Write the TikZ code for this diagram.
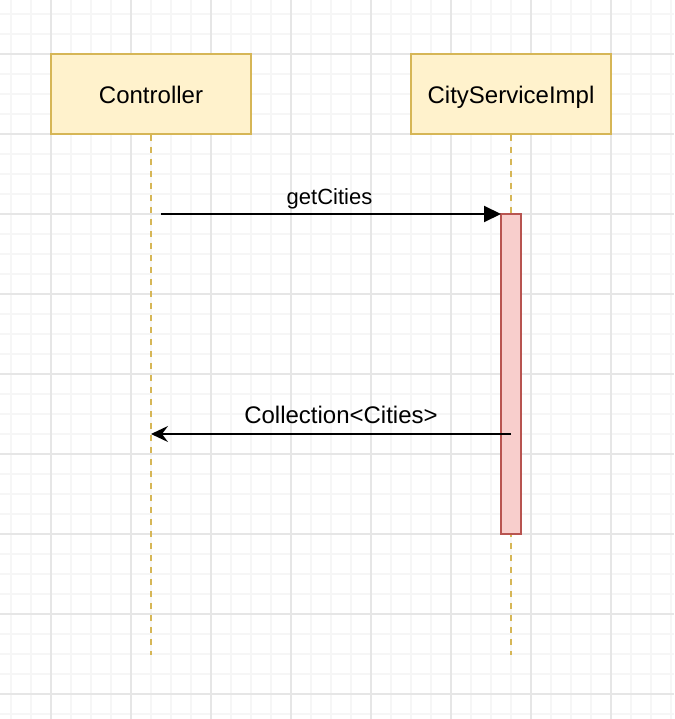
\documentclass[tikz,border=0pt]{standalone}
\usepackage{fontspec}
\setmainfont{Liberation Sans}
\usetikzlibrary{arrows.meta}
\definecolor{lifefill}{HTML}{FFF2CC}
\definecolor{lifedraw}{HTML}{D6B656}
\definecolor{actfill}{HTML}{F8CECC}
\definecolor{actdraw}{HTML}{B85450}
\definecolor{minorgrid}{HTML}{F6F6F6}
\definecolor{majorgrid}{HTML}{E6E6E6}
\begin{document}
\begin{tikzpicture}[x=1pt,y=-1pt,
  minorline/.style={draw=minorgrid,line width=1.3pt},
  majorline/.style={draw=majorgrid,line width=1.3pt},
  lifebox/.style={draw=lifedraw,fill=lifefill,line width=2pt,minimum width=200pt,minimum height=80pt,inner sep=0pt,text height=19pt,text depth=0pt,font=\fontsize{24}{28}\selectfont},
  actbox/.style={draw=actdraw,fill=actfill,line width=2pt,minimum width=20pt,minimum height=320pt,inner sep=0pt},
  lifeline/.style={draw=lifedraw,line width=2pt,dash pattern=on 6pt off 6pt},
  msg/.style={draw=black,line width=2pt},
  msglabel/.style={inner sep=0pt,anchor=base}
]
\fill[white] (0,0) rectangle (674,719);
\useasboundingbox (0,0) rectangle (674,719);
\foreach \x in {11,31,...,671} \draw[minorline] (\x,0) -- (\x,719);
\foreach \y in {14,34,...,714} \draw[minorline] (0,\y) -- (674,\y);
\foreach \x in {51,131,...,671} \draw[majorline] (\x,0) -- (\x,719);
\foreach \y in {54,134,...,714} \draw[majorline] (0,\y) -- (674,\y);

\node[lifebox] (ctrl) at (151,94) {Controller};
\node[lifebox] (svc) at (511,94) {CityServiceImpl};
\coordinate (ctrlend) at (151,655);
\coordinate (svcend) at (511,655);
\draw[lifeline] (ctrl.south) -- (ctrlend);
\draw[lifeline] (svc.south) -- (svcend);
\node[actbox] (act) at (511,374) {};

\coordinate (m1start) at (161,214);
\coordinate (m1end) at (501,214);
\draw[msg,-{Triangle[length=17pt,width=16pt]}] (m1start) -- (m1end);
\node[msglabel,font=\fontsize{22}{26}\selectfont] (m1label) at (329.5,205) {getCities};

\coordinate (r1start) at (511,434);
\coordinate (r1end) at (151,434);
\draw[msg,-{Stealth[length=17pt,width=16pt,inset=6pt]}] (r1start) -- (r1end);
\node[msglabel,font=\fontsize{24}{28}\selectfont] (r1label) at (341,423) {Collection<Cities>};
\end{tikzpicture}
\end{document}
